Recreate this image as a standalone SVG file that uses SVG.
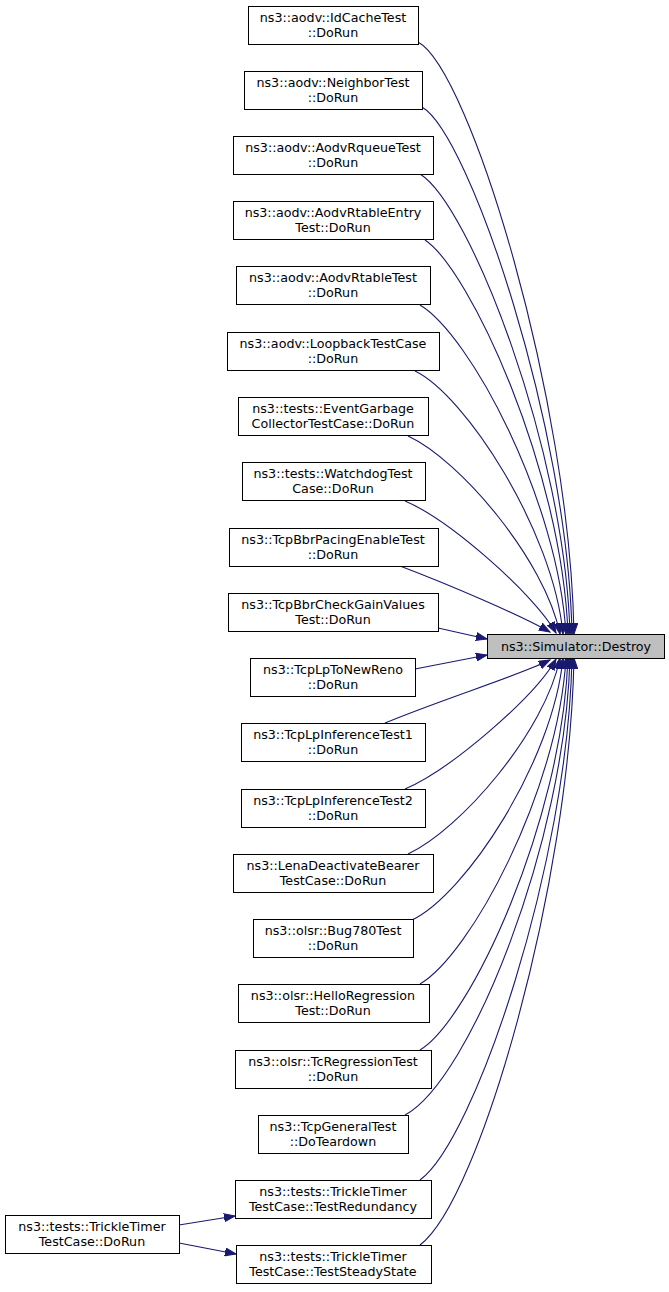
<svg xmlns="http://www.w3.org/2000/svg" width="669" height="1292" viewBox="0 0 669 1292">
<style>
.n rect{fill:#fff;stroke:#000;stroke-width:1}
.n text{font-family:"DejaVu Sans",sans-serif;font-size:12.7px;text-anchor:middle;fill:#000}
#edges path{fill:none;stroke:#191970;stroke-width:1.1}
</style>
<defs>
<marker id="ah" markerWidth="12" markerHeight="9" refX="11" refY="4.5" orient="auto" markerUnits="userSpaceOnUse">
<polygon points="0,0.5 11,4.5 0,8.5" fill="#191970" stroke="#191970"/>
</marker>
</defs>
<rect width="669" height="1292" fill="#fff"/>
<g id="edges" marker-end="url(#ah)">
<path d="M418,42 C470,70 570,400 574,634"/>
<path d="M422,107 C470,135 568,430 572,634"/>
<path d="M420,174 C470,205 565,450 570,634"/>
<path d="M425,240 C470,270 562,470 568,634"/>
<path d="M420,305 C470,335 558,500 566,634"/>
<path d="M415,371 C465,395 553,530 563,634"/>
<path d="M408,436 C460,460 545,560 560,634"/>
<path d="M405,501 C450,520 535,595 556,633"/>
<path d="M400,566 C450,585 520,615 550,632"/>
<path d="M438,628 L487,639"/>
<path d="M415,669 L487,655"/>
<path d="M385,723 C440,700 520,675 550,660"/>
<path d="M405,789 C450,770 535,697 556,659"/>
<path d="M408,854 C460,830 545,732 560,658"/>
<path d="M412,920 C465,895 553,762 563,658"/>
<path d="M420,984 C470,955 558,792 566,658"/>
<path d="M420,1050 C470,1020 562,822 568,658"/>
<path d="M405,1115 C470,1080 565,842 570,658"/>
<path d="M420,1180 C475,1140 568,862 572,658"/>
<path d="M420,1245 C480,1200 570,882 574,658"/>
<path d="M179,1225 L235,1216"/>
<path d="M179,1243 L236,1254"/>
</g>
<g id="destroy" class="n"><rect x="487.5" y="634.5" width="177" height="24" style="fill:#bfbfbf"/><text x="576" y="651">ns3::Simulator::Destroy</text></g>
<g id="n1" class="n"><rect x="248.5" y="6.5" width="170" height="38"/><text x="333" y="22">ns3::aodv::IdCacheTest</text><text x="333" y="37">::DoRun</text></g>
<g id="n2" class="n"><rect x="244.5" y="71.5" width="178" height="38"/><text x="333" y="87">ns3::aodv::NeighborTest</text><text x="333" y="102">::DoRun</text></g>
<g id="n3" class="n"><rect x="233.5" y="136.5" width="200" height="38"/><text x="333" y="152">ns3::aodv::AodvRqueueTest</text><text x="333" y="167">::DoRun</text></g>
<g id="n4" class="n"><rect x="233.5" y="201.5" width="200" height="38"/><text x="333" y="217">ns3::aodv::AodvRtableEntry</text><text x="333" y="232">Test::DoRun</text></g>
<g id="n5" class="n"><rect x="236.5" y="266.5" width="194" height="38"/><text x="333" y="282">ns3::aodv::AodvRtableTest</text><text x="333" y="297">::DoRun</text></g>
<g id="n6" class="n"><rect x="227.5" y="332.5" width="212" height="38"/><text x="333" y="348">ns3::aodv::LoopbackTestCase</text><text x="333" y="363">::DoRun</text></g>
<g id="n7" class="n"><rect x="238.5" y="397.5" width="190" height="38"/><text x="333" y="413">ns3::tests::EventGarbage</text><text x="333" y="428">CollectorTestCase::DoRun</text></g>
<g id="n8" class="n"><rect x="242.5" y="462.5" width="183" height="38"/><text x="333" y="478">ns3::tests::WatchdogTest</text><text x="333" y="493">Case::DoRun</text></g>
<g id="n9" class="n"><rect x="229.5" y="528.5" width="209" height="38"/><text x="333" y="544">ns3::TcpBbrPacingEnableTest</text><text x="333" y="559">::DoRun</text></g>
<g id="n10" class="n"><rect x="228.5" y="593.5" width="210" height="38"/><text x="333" y="609">ns3::TcpBbrCheckGainValues</text><text x="333" y="624">Test::DoRun</text></g>
<g id="n11" class="n"><rect x="250.5" y="658.5" width="165" height="38"/><text x="333" y="674">ns3::TcpLpToNewReno</text><text x="333" y="689">::DoRun</text></g>
<g id="n12" class="n"><rect x="241.5" y="723.5" width="184" height="38"/><text x="333" y="739">ns3::TcpLpInferenceTest1</text><text x="333" y="754">::DoRun</text></g>
<g id="n13" class="n"><rect x="241.5" y="789.5" width="184" height="38"/><text x="333" y="805">ns3::TcpLpInferenceTest2</text><text x="333" y="820">::DoRun</text></g>
<g id="n14" class="n"><rect x="233.5" y="854.5" width="200" height="38"/><text x="333" y="870">ns3::LenaDeactivateBearer</text><text x="333" y="885">TestCase::DoRun</text></g>
<g id="n15" class="n"><rect x="253.5" y="919.5" width="160" height="38"/><text x="333" y="935">ns3::olsr::Bug780Test</text><text x="333" y="950">::DoRun</text></g>
<g id="n16" class="n"><rect x="238.5" y="984.5" width="191" height="38"/><text x="333" y="1000">ns3::olsr::HelloRegression</text><text x="333" y="1015">Test::DoRun</text></g>
<g id="n17" class="n"><rect x="235.5" y="1050.5" width="196" height="38"/><text x="333" y="1066">ns3::olsr::TcRegressionTest</text><text x="333" y="1081">::DoRun</text></g>
<g id="n18" class="n"><rect x="258.5" y="1115.5" width="150" height="38"/><text x="333" y="1131">ns3::TcpGeneralTest</text><text x="333" y="1146">::DoTeardown</text></g>
<g id="n19" class="n"><rect x="235.5" y="1180.5" width="196" height="38"/><text x="333" y="1196">ns3::tests::TrickleTimer</text><text x="333" y="1211">TestCase::TestRedundancy</text></g>
<g id="n20" class="n"><rect x="236.5" y="1245.5" width="195" height="38"/><text x="333" y="1261">ns3::tests::TrickleTimer</text><text x="333" y="1276">TestCase::TestSteadyState</text></g>
<g id="n21" class="n"><rect x="5.5" y="1215.5" width="174" height="38"/><text x="92" y="1231">ns3::tests::TrickleTimer</text><text x="92" y="1246">TestCase::DoRun</text></g>
</svg>
